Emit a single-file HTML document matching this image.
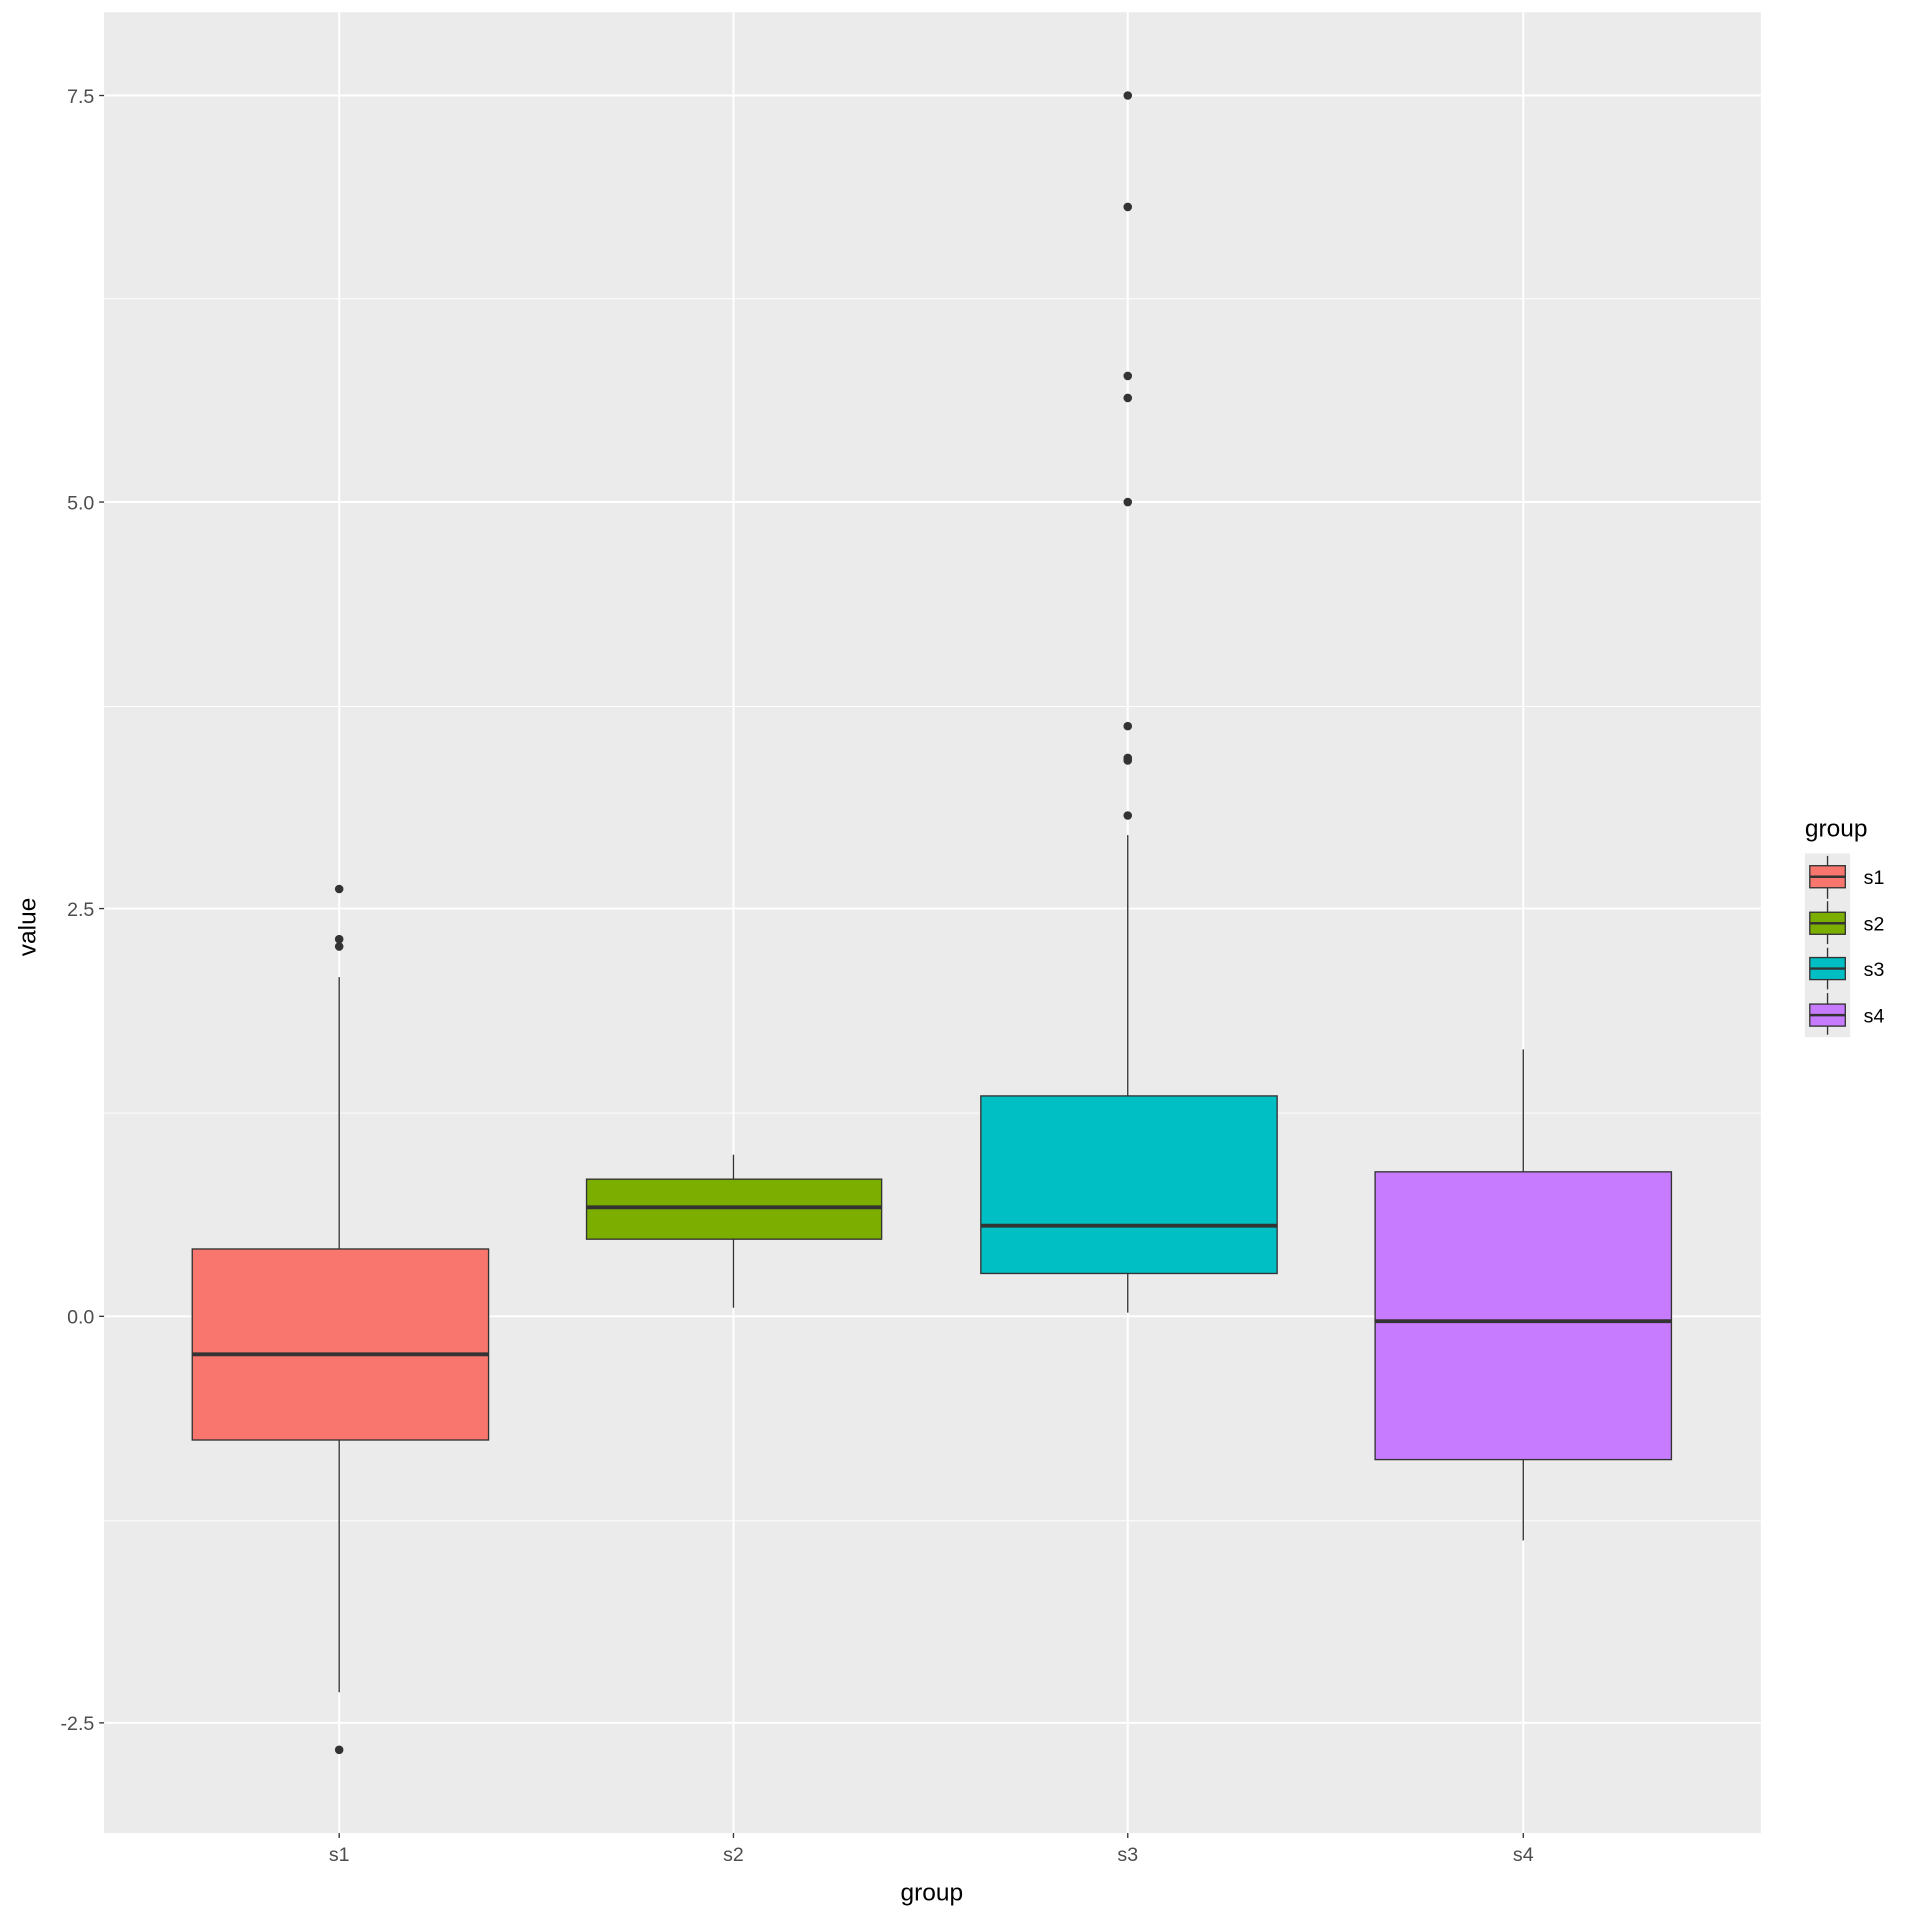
<!DOCTYPE html>
<html><head><meta charset="utf-8"><style>html,body{margin:0;padding:0;background:#fff}svg{display:block}</style></head>
<body>
<svg width="1920" height="1920" viewBox="0 0 1568 1568" xmlns="http://www.w3.org/2000/svg" font-family="Liberation Sans, Arial, sans-serif">
<rect width="1568" height="1568" fill="#fff"/>
<rect x="85" y="10" width="1353" height="1487" fill="#EBEBEB"/>
<g stroke="#fff" stroke-width="0.8">
<line x1="85" x2="1438" y1="244" y2="244"/><line x1="85" x2="1438" y1="577" y2="577"/>
<line x1="85" x2="1438" y1="909" y2="909"/><line x1="85" x2="1438" y1="1242" y2="1242"/>
</g>
<g stroke="#fff" stroke-width="1.6">
<line x1="85" x2="1438" y1="78" y2="78"/><line x1="85" x2="1438" y1="410" y2="410"/>
<line x1="85" x2="1438" y1="742" y2="742"/><line x1="85" x2="1438" y1="1075" y2="1075"/>
<line x1="85" x2="1438" y1="1407" y2="1407"/>
<line x1="277" x2="277" y1="10" y2="1497"/><line x1="599" x2="599" y1="10" y2="1497"/>
<line x1="921" x2="921" y1="10" y2="1497"/><line x1="1244" x2="1244" y1="10" y2="1497"/>
</g>
<g stroke="#333" stroke-width="1.1">
<line x1="277" x2="277" y1="798" y2="1020"/><line x1="277" x2="277" y1="1176" y2="1382"/>
<rect x="157" y="1020" width="242" height="156" fill="#F8766D"/>
<line x1="599" x2="599" y1="943" y2="963"/><line x1="599" x2="599" y1="1012" y2="1068"/>
<rect x="479" y="963" width="241" height="49" fill="#7CAE00"/>
<line x1="921" x2="921" y1="682" y2="895"/><line x1="921" x2="921" y1="1040" y2="1072"/>
<rect x="801" y="895" width="242" height="145" fill="#00BFC4"/>
<line x1="1244" x2="1244" y1="857" y2="957"/><line x1="1244" x2="1244" y1="1192" y2="1258"/>
<rect x="1123" y="957" width="242" height="235" fill="#C77CFF"/>
</g>
<g stroke="#333" stroke-width="3.2">
<line x1="157" x2="399" y1="1106" y2="1106"/><line x1="479" x2="720" y1="986" y2="986"/>
<line x1="801" x2="1043" y1="1001" y2="1001"/><line x1="1123" x2="1365" y1="1079" y2="1079"/>
</g>
<g fill="#333">
<circle cx="277" cy="726" r="3.5"/><circle cx="277" cy="767" r="3.5"/><circle cx="277" cy="773" r="3.5"/><circle cx="277" cy="1429" r="3.5"/>
<circle cx="921" cy="666" r="3.5"/><circle cx="921" cy="619" r="3.5"/><circle cx="921" cy="621" r="3.5"/><circle cx="921" cy="593" r="3.5"/>
<circle cx="921" cy="410" r="3.5"/><circle cx="921" cy="325" r="3.5"/><circle cx="921" cy="307" r="3.5"/><circle cx="921" cy="169" r="3.5"/><circle cx="921" cy="78" r="3.5"/>
</g>
<g stroke="#333" stroke-width="1.1">
<line x1="81" x2="85" y1="78" y2="78"/><line x1="81" x2="85" y1="410" y2="410"/><line x1="81" x2="85" y1="742" y2="742"/>
<line x1="81" x2="85" y1="1075" y2="1075"/><line x1="81" x2="85" y1="1407" y2="1407"/>
<line x1="277" x2="277" y1="1497" y2="1501"/><line x1="599" x2="599" y1="1497" y2="1501"/>
<line x1="921" x2="921" y1="1497" y2="1501"/><line x1="1244" x2="1244" y1="1497" y2="1501"/>
</g>
<g fill="#4D4D4D" font-size="16" text-anchor="end">
<text x="77" y="84">7.5</text><text x="77" y="416">5.0</text><text x="77" y="748">2.5</text>
<text x="77" y="1081">0.0</text><text x="77" y="1413">-2.5</text>
</g>
<g fill="#4D4D4D" font-size="16" text-anchor="middle">
<text x="277" y="1520">s1</text><text x="599" y="1520">s2</text><text x="921" y="1520">s3</text><text x="1244" y="1520">s4</text>
</g>
<text x="761" y="1552" font-size="20" text-anchor="middle">group</text>
<text transform="translate(29,757) rotate(-90)" font-size="20" text-anchor="middle">value</text>
<text x="1474" y="683" font-size="20">group</text>
<rect x="1474" y="697" width="37" height="150" fill="#EBEBEB"/>
<g stroke="#333" stroke-width="1.1">
<line x1="1492.5" x2="1492.5" y1="699" y2="734"/><rect x="1478" y="707" width="29" height="18" fill="#F8766D"/><line x1="1478" x2="1507" y1="716" y2="716" stroke-width="2"/>
<line x1="1492.5" x2="1492.5" y1="736" y2="771"/><rect x="1478" y="745" width="29" height="18" fill="#7CAE00"/><line x1="1478" x2="1507" y1="754" y2="754" stroke-width="2"/>
<line x1="1492.5" x2="1492.5" y1="774" y2="808"/><rect x="1478" y="782" width="29" height="18" fill="#00BFC4"/><line x1="1478" x2="1507" y1="791" y2="791" stroke-width="2"/>
<line x1="1492.5" x2="1492.5" y1="811" y2="845"/><rect x="1478" y="820" width="29" height="18" fill="#C77CFF"/><line x1="1478" x2="1507" y1="829" y2="829" stroke-width="2"/>
</g>
<g font-size="16">
<text x="1522" y="722">s1</text><text x="1522" y="760">s2</text><text x="1522" y="797">s3</text><text x="1522" y="835">s4</text>
</g>
</svg>
</body></html>
